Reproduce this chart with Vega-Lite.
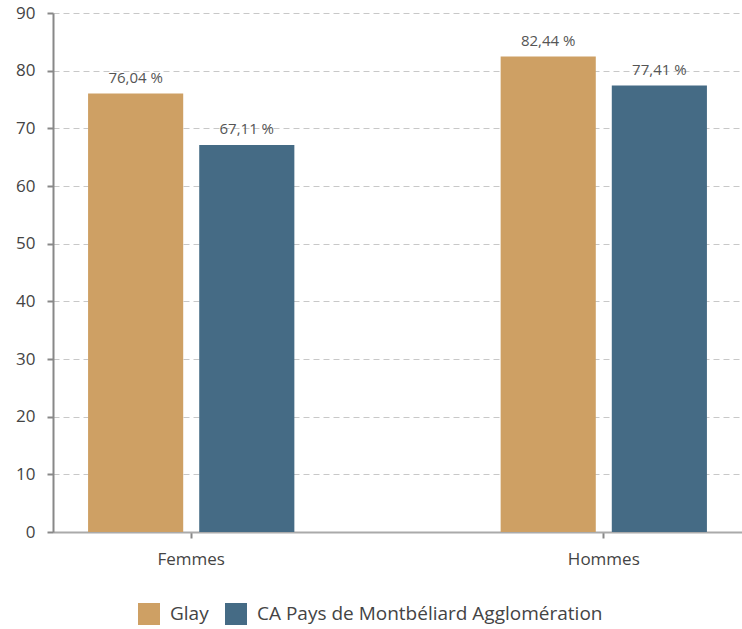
{
  "$schema": "https://vega.github.io/schema/vega-lite/v6.json",
  "width": 689,
  "height": 519,
  "autosize": "none",
  "padding": {"left": 53, "top": 13, "right": 0, "bottom": 97},
  "config": {"view": {"stroke": null}, "font": "Open Sans"},
  "data": {"values": [
    {"sexe": "Femmes", "zone": "Glay", "v": 76.04, "label": "76,04 %"},
    {"sexe": "Femmes", "zone": "CA Pays de Montbéliard Agglomération", "v": 67.11, "label": "67,11 %"},
    {"sexe": "Hommes", "zone": "Glay", "v": 82.44, "label": "82,44 %"},
    {"sexe": "Hommes", "zone": "CA Pays de Montbéliard Agglomération", "v": 77.41, "label": "77,41 %"}
  ]},
  "encoding": {
    "x": {"field": "sexe", "type": "nominal", "sort": ["Femmes", "Hommes"],
      "scale": {"paddingInner": 0.5, "paddingOuter": 0.085},
      "axis": {"title": null, "labelAngle": 0, "labelFontSize": 17, "labelColor": "#444", "labelPadding": 13,
        "domainColor": "#aaa", "domainWidth": 2, "tickColor": "#888", "tickSize": 6, "tickWidth": 2}},
    "xOffset": {"field": "zone", "type": "nominal", "sort": ["Glay", "CA Pays de Montbéliard Agglomération"],
      "scale": {"paddingInner": 0.144, "paddingOuter": 0}},
    "y": {"field": "v", "type": "quantitative", "scale": {"domain": [0, 90]},
      "axis": {"title": null, "values": [0,10,20,30,40,50,60,70,80,90], "labelFontSize": 17, "labelColor": "#444", "labelPadding": 12,
        "domainColor": "#888", "domainWidth": 2, "tickColor": "#888", "tickSize": 6, "tickWidth": 2,
        "grid": true, "gridColor": "#c8c8c8", "gridDash": [6, 4], "gridWidth": 1}}
  },
  "layer": [
    {"mark": {"type": "bar"},
     "encoding": {"color": {"field": "zone", "type": "nominal",
        "scale": {"domain": ["Glay", "CA Pays de Montbéliard Agglomération"], "range": ["#CEA064", "#456B85"]},
        "legend": {"title": null, "orient": "none", "legendX": 85, "legendY": 590, "direction": "horizontal",
          "symbolType": "square", "symbolSize": 484, "symbolStrokeWidth": 0, "labelFontSize": 19, "labelColor": "#444",
          "labelLimit": 0, "columnPadding": 16, "labelOffset": 10}}}},
    {"mark": {"type": "text", "baseline": "alphabetic", "dy": -11, "fontSize": 15, "color": "#555"},
     "encoding": {"text": {"field": "label"}}}
  ]
}
